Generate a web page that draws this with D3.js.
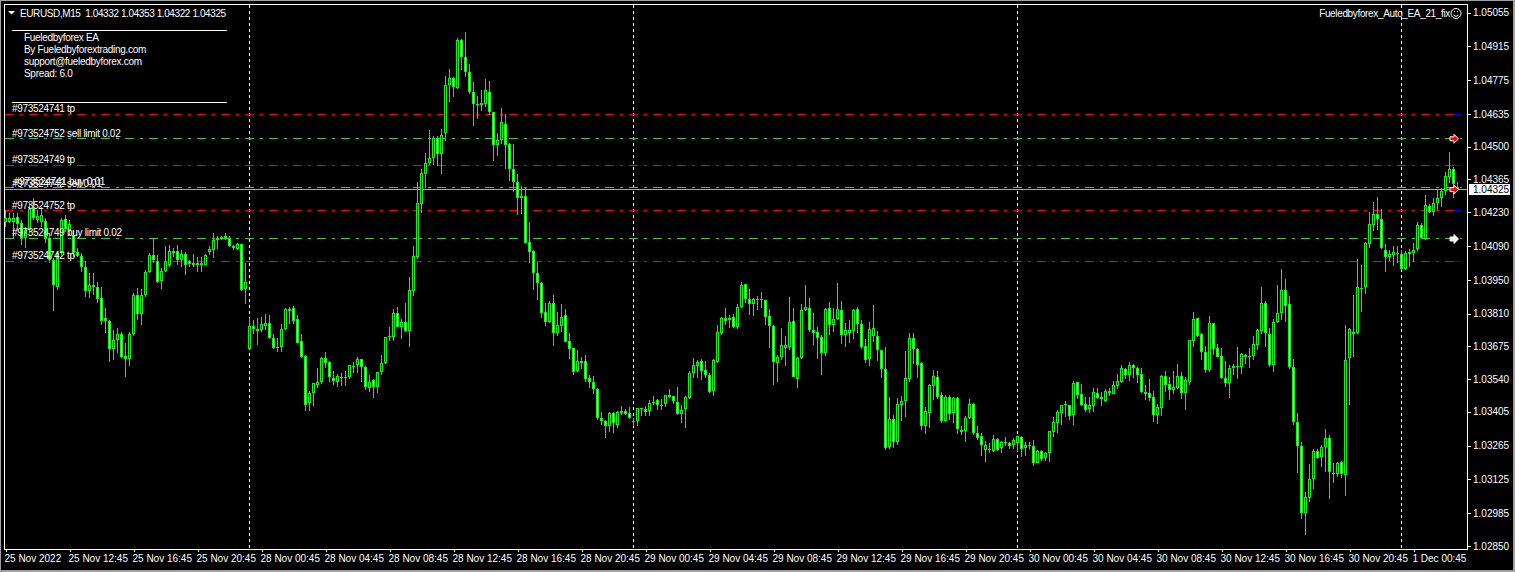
<!DOCTYPE html>
<html><head><meta charset="utf-8">
<script src="https://cdn.jsdelivr.net/npm/d3@7/dist/d3.min.js"></script>
<style>
html,body{margin:0;padding:0;background:#a0a0a0;overflow:hidden}
svg{display:block;font-family:"Liberation Sans",sans-serif;font-size:10px}
text{fill:#fff}
</style></head><body><div id="c"></div>
<script>
// Prices in points (1e-5)
const high=[104239,104225,104225,104225,104198,104170,104267,104287,104239,104253,
104205,104143,104039,104067,104205,104218,104198,104156,104081,104060,
104026,103977,103977,103943,103922,103833,103784,103743,103750,103736,
103688,103736,103895,103915,103911,103991,104060,104122,104053,103998,
104088,104094,104081,104094,104074,104067,104032,104056,104046,104046,
104057,104090,104143,104132,104132,104143,104132,104094,104104,104098,
104018,103791,103784,103791,103795,103809,103805,103726,103708,103768,
103832,103836,103842,103805,103726,103639,103491,103522,103584,103630,
103652,103613,103575,103561,103564,103575,103598,103610,103630,103624,
103594,103557,103539,103571,103639,103715,103754,103830,103836,103788,
103853,103963,104090,104353,104407,104473,104569,104545,104545,104572,
104793,104820,104787,104948,104945,104973,104842,104766,104710,104735,
104779,104772,104645,104556,104659,104635,104514,104512,104387,104338,
104335,104189,104073,104024,103942,103854,103863,103888,103816,103851,
103830,103731,103670,103661,103633,103640,103557,103553,103502,103404,
103371,103404,103403,103407,103427,103415,103424,103378,103422,103420,
103427,103454,103471,103457,103458,103476,103500,103472,103508,103432,
103471,103575,103626,103619,103624,103615,103564,103624,103764,103797,
103833,103805,103810,103851,103942,103934,103911,103874,103884,103900,
103868,103830,103764,103640,103750,103718,103879,103834,103630,103850,
103929,103875,103813,103754,103722,103833,103857,103833,103936,103861,
103771,103784,103828,103838,103783,103706,103776,103846,103739,103660,
103671,103466,103392,103461,103470,103656,103729,103729,103667,103609,
103425,103518,103578,103572,103487,103476,103473,103467,103466,103346,
103388,103456,103440,103346,103316,103283,103277,103309,103295,103286,
103299,103281,103298,103306,103305,103280,103281,103288,103246,103247,
103238,103327,103382,103412,103434,103449,103434,103531,103529,103518,
103466,103466,103502,103502,103485,103497,103502,103532,103559,103597,
103586,103610,103602,103588,103586,103515,103539,103491,103435,103557,
103572,103548,103572,103602,103569,103547,103701,103817,103794,103732,
103675,103801,103773,103685,103668,103615,103598,103602,103672,103646,
103643,103668,103718,103745,103920,103861,103750,103787,103929,103995,
103953,103883,103623,103398,103279,103074,103188,103250,103250,103269,
103334,103309,103195,103198,103201,103764,103750,103888,104035,104012,
104106,104230,104272,104293,104242,104099,104074,104091,104088,104074,
104071,104077,104104,104188,104187,104299,104264,104288,104325,104329,
104394,104479,104416,104353];
const low=[104170,104184,104122,104156,104094,104081,104143,104198,104184,104170,
104101,104019,103823,103908,104053,104149,104136,104046,104046,103984,
103881,103874,103888,103853,103764,103732,103612,103619,103647,103626,
103547,103592,103716,103784,103764,103881,103977,104019,103936,103914,
103984,104005,104046,104012,104005,103970,104005,104005,103984,103984,
104012,104053,104039,104076,104115,104115,104085,104074,104074,103905,
103850,103660,103726,103681,103736,103743,103704,103663,103653,103653,
103743,103768,103768,103688,103627,103409,103409,103429,103503,103520,
103584,103529,103515,103509,103511,103511,103542,103564,103566,103529,
103495,103488,103463,103481,103557,103602,103699,103699,103754,103706,
103734,103674,103883,104038,104228,104328,104425,104425,104422,104389,
104525,104686,104706,104737,104817,104787,104718,104586,104616,104649,
104663,104631,104443,104462,104512,104410,104360,104314,104218,104222,
104101,104021,103908,103867,103793,103760,103771,103677,103719,103735,
103694,103624,103557,103570,103581,103528,103504,103479,103369,103349,
103297,103323,103316,103336,103392,103392,103374,103347,103347,103388,
103388,103388,103431,103413,103413,103425,103461,103438,103393,103359,
103338,103458,103544,103546,103537,103544,103482,103468,103608,103724,
103764,103750,103750,103748,103832,103854,103805,103801,103826,103833,
103764,103669,103516,103528,103619,103594,103660,103547,103503,103622,
103820,103736,103681,103623,103557,103636,103722,103736,103784,103685,
103671,103691,103706,103729,103666,103605,103593,103693,103615,103545,
103247,103251,103257,103269,103368,103382,103528,103602,103545,103330,
103313,103338,103454,103456,103360,103363,103371,103360,103313,103310,
103280,103374,103308,103288,103222,103197,103233,103240,103244,103236,
103264,103250,103250,103240,103219,103222,103250,103181,103192,103202,
103200,103197,103302,103318,103350,103383,103371,103350,103459,103429,
103404,103400,103404,103459,103430,103446,103471,103478,103499,103525,
103540,103532,103543,103524,103481,103453,103449,103362,103354,103387,
103486,103453,103478,103497,103459,103412,103515,103672,103712,103619,
103565,103569,103639,103630,103542,103507,103462,103555,103540,103561,
103602,103586,103619,103660,103726,103674,103588,103569,103770,103784,
103776,103581,103349,103153,102961,102897,103030,103085,103209,103176,
103156,103046,103110,103134,103132,103057,103433,103633,103727,103819,
103892,104080,104153,104157,104077,103984,104026,104008,104019,103989,
103989,104005,104024,104071,104118,104115,104226,104215,104239,104253,
104300,104350,104288,104322];
const open=[104191,104191,104191,104209,104184,104121,104154,104246,104198,104191,
104192,104122,104030,103922,104063,104200,104156,104134,104064,104050,
104005,103906,103928,103919,103874,103791,103782,103663,103702,103725,
103636,103622,103725,103888,103808,103888,103984,104052,104027,103947,
103987,104012,104070,104070,104030,104056,104026,104019,104013,104021,
104013,104067,104074,104116,104119,104132,104122,104090,104079,104098,
103911,103663,103758,103747,103743,103761,103770,103708,103674,103671,
103745,103823,103832,103787,103696,103634,103440,103484,103517,103529,
103626,103609,103546,103529,103544,103549,103547,103594,103597,103622,
103591,103502,103535,103509,103568,103605,103712,103715,103812,103757,
103774,103737,103903,104043,104262,104386,104434,104452,104535,104469,
104556,104754,104783,104742,104940,104872,104808,104728,104673,104674,
104678,104728,104642,104509,104528,104596,104510,104407,104356,104290,
104298,104105,104068,103977,103936,103819,103774,103854,103732,103761,
103804,103697,103668,103574,103615,103614,103544,103527,103498,103378,
103367,103348,103399,103352,103399,103407,103399,103365,103365,103420,
103415,103406,103439,103453,103432,103435,103464,103469,103447,103396,
103418,103462,103567,103596,103614,103577,103556,103489,103611,103732,
103792,103786,103796,103757,103836,103932,103870,103852,103865,103870,
103866,103799,103760,103608,103633,103670,103674,103779,103542,103625,
103826,103833,103744,103733,103713,103647,103833,103765,103788,103824,
103724,103732,103739,103828,103766,103676,103622,103720,103717,103659,
103580,103261,103374,103281,103434,103448,103542,103709,103663,103605,
103348,103401,103513,103547,103473,103368,103465,103401,103462,103328,
103327,103379,103436,103316,103304,103247,103248,103244,103291,103253,
103277,103276,103266,103275,103299,103253,103262,103262,103195,103242,
103215,103236,103321,103360,103401,103433,103431,103391,103526,103477,
103435,103416,103430,103481,103456,103449,103491,103478,103511,103529,
103580,103558,103597,103586,103559,103480,103481,103464,103393,103422,
103551,103518,103496,103504,103551,103484,103529,103699,103791,103725,
103650,103579,103770,103667,103634,103543,103525,103584,103594,103591,
103632,103631,103635,103681,103740,103853,103728,103598,103776,103814,
103907,103849,103588,103364,103263,102986,103048,103126,103242,103217,
103261,103296,103148,103147,103196,103143,103625,103728,103730,103913,
103920,104100,104175,104221,104201,104073,104046,104053,104062,104056,
103994,104056,104060,104077,104176,104118,104255,104230,104267,104288,
104319,104374,104407,104332];
const close=[104205,104205,104205,104181,104121,104156,104242,104205,104214,104218,
104121,104030,103928,104063,104198,104159,104181,104063,104049,104005,
103906,103928,103919,103870,103782,103778,103663,103702,103725,103633,
103622,103725,103888,103808,103888,103983,104052,104030,103943,103987,
104026,104070,104060,104034,104056,104013,104016,104013,104019,104013,
104053,104078,104115,104121,104129,104121,104088,104081,104099,103908,
103940,103759,103745,103740,103768,103772,103708,103670,103668,103745,
103828,103830,103781,103690,103630,103434,103481,103522,103526,103626,
103605,103547,103533,103553,103549,103544,103597,103590,103622,103588,
103506,103529,103509,103568,103605,103712,103718,103814,103757,103774,
103737,103907,104047,104266,104390,104434,104452,104535,104469,104550,
104754,104783,104746,104940,104872,104810,104728,104675,104678,104681,
104733,104645,104509,104527,104601,104509,104407,104356,104287,104298,
104104,104066,103977,103936,103815,103774,103854,103732,103763,103796,
103695,103666,103571,103614,103608,103542,103526,103497,103377,103365,
103344,103399,103358,103403,103407,103396,103380,103367,103420,103417,
103402,103440,103447,103431,103429,103473,103473,103451,103396,103411,
103465,103564,103597,103610,103575,103555,103487,103619,103734,103792,
103782,103793,103754,103837,103929,103870,103849,103870,103870,103865,
103798,103761,103612,103630,103680,103680,103775,103550,103627,103827,
103837,103743,103732,103711,103649,103828,103764,103787,103828,103724,
103742,103742,103824,103769,103674,103619,103746,103750,103659,103580,
103257,103374,103281,103436,103448,103543,103709,103666,103600,103348,
103407,103514,103552,103467,103368,103465,103397,103461,103332,103323,
103378,103436,103316,103298,103269,103266,103251,103291,103247,103280,
103280,103265,103287,103304,103251,103266,103266,103191,103242,103211,
103233,103324,103361,103402,103431,103435,103389,103522,103475,103433,
103412,103433,103485,103462,103464,103491,103481,103514,103531,103584,
103558,103597,103587,103557,103488,103486,103463,103393,103424,103553,
103517,103496,103507,103551,103482,103536,103700,103787,103718,103653,
103579,103770,103666,103632,103546,103525,103584,103593,103590,103642,
103638,103635,103683,103741,103853,103729,103599,103774,103812,103907,
103843,103588,103364,103265,102986,103052,103126,103242,103213,103261,
103296,103154,103151,103195,103148,103619,103746,103735,103920,103916,
104102,104180,104223,104201,104081,104046,104056,104064,104056,103994,
104060,104066,104073,104176,104122,104259,104230,104267,104289,104318,
104380,104407,104347,104325];

const priceTicks=[1.05055,1.04915,1.04775,1.04635,1.04500,1.04365,1.04230,1.04090,1.03950,1.03810,1.03675,1.03540,1.03405,1.03265,1.03125,1.02985,1.02850];
const timeLabels=["25 Nov 2022","25 Nov 12:45","25 Nov 16:45","25 Nov 20:45","28 Nov 00:45","28 Nov 04:45","28 Nov 08:45","28 Nov 12:45","28 Nov 16:45","28 Nov 20:45","29 Nov 00:45","29 Nov 04:45","29 Nov 08:45","29 Nov 12:45","29 Nov 16:45","29 Nov 20:45","30 Nov 00:45","30 Nov 04:45","30 Nov 08:45","30 Nov 12:45","30 Nov 16:45","30 Nov 20:45","1 Dec 00:45"];
const barsPerLabel=16;
const separatorBars=[61,157,253,349];
const levelPrices=[1.04635,1.04535,1.04423,1.04332,1.04237,1.04121,1.04026];
const levelColors=["#ff0000","#32cd32","#ff0000","#32cd32","#ff0000","#32cd32","#ff0000"];
const levelLabels=["#973524741 tp","#973524752 sell limit 0.02","#973524749 tp","#973524741 buy 0.01","#973524752 tp","#973524749 buy limit 0.02","#973524742 tp"];
const extraLabel="#973524742 sell 0.01";
const infoLines=["Fueledbyforex EA","By Fueledbyforextrading.com","support@fueledbyforex.com","Spread: 6.0"];
const headerText="EURUSD,M15  1.04332 1.04353 1.04322 1.04325";
const eaName="Fueledbyforex_Auto_EA_21_fix";
const bid=1.04325;

const W=1515,H=572,L=5,R=1467,T=5,B=549;
const x=d3.scaleLinear().domain([0,363]).range([5.5,1457.5]);
const y=d3.scaleLinear().domain([1.0285,1.05055]).range([546,12.5]);
const yp=p=>y(p/1e5);
const svg=d3.select("#c").append("svg").attr("width",W).attr("height",H).attr("shape-rendering","crispEdges");
svg.append("rect").attr("width",W).attr("height",H).attr("fill","#a0a0a0");
svg.append("rect").attr("x",1).attr("y",1).attr("width",1512).attr("height",569).attr("fill","#000");
svg.append("rect").attr("x",L-0.5).attr("y",T-0.5).attr("width",R-L+1).attr("height",B-T+1).attr("fill","#000").attr("stroke","#fff");

// period separators
svg.append("g").selectAll("line").data(separatorBars).join("line")
 .attr("x1",d=>x(d)).attr("x2",d=>x(d)).attr("y1",T).attr("y2",B)
 .attr("stroke","#fff").attr("stroke-dasharray","3 3");

// order levels
const rowY=p=>Math.floor(y(p))+0.5;
const lv=svg.append("g");
lv.selectAll("line").data(levelPrices).join("line")
 .attr("x1",L).attr("x2",1462).attr("y1",rowY).attr("y2",rowY)
 .attr("stroke",(d,i)=>levelColors[i]).attr("stroke-dasharray","9 6 3 6");
lv.selectAll("line.end").data(levelPrices.filter((d,i)=>levelColors[i]=="#ff0000")).join("line").attr("class","end")
 .attr("x1",1454).attr("x2",1462).attr("y1",rowY).attr("y2",rowY).attr("stroke","#0000ff");
svg.append("line").attr("x1",L).attr("x2",R).attr("y1",rowY(bid)).attr("y2",rowY(bid)).attr("stroke","#a9a9a9");

// candles
const bars=d3.range(high.length).map(i=>({i,o:open[i],h:high[i],l:low[i],c:close[i]}));
const col=d=>Math.floor(x(d.i));
const g=svg.append("g");
g.selectAll("rect.w").data(bars).join("rect").attr("class","w")
 .attr("x",col).attr("width",1).attr("y",d=>Math.round(yp(d.h)))
 .attr("height",d=>Math.max(1,Math.round(yp(d.l))-Math.round(yp(d.h)))).attr("fill","#00ff00");
const topOf=d=>Math.round(yp(Math.max(d.o,d.c))), botOf=d=>Math.max(topOf(d)+1,Math.round(yp(Math.min(d.o,d.c))));
g.selectAll("rect.b").data(bars).join("rect").attr("class","b")
 .attr("x",d=>col(d)-1).attr("width",3).attr("y",topOf).attr("height",d=>botOf(d)-topOf(d)).attr("fill","#00ff00");
g.selectAll("rect.f").data(bars.filter(d=>botOf(d)-topOf(d)>2)).join("rect").attr("class","f")
 .attr("x",col).attr("width",1).attr("y",d=>topOf(d)+1).attr("height",d=>botOf(d)-topOf(d)-2)
 .attr("fill",d=>d.c<d.o?"#fff":"#000");

// arrows
const arrow=(px,py,fill)=>{
 const p=d3.path();p.moveTo(px-4,py-2);p.lineTo(px,py-2);p.lineTo(px,py-4.5);p.lineTo(px+4.5,py);p.lineTo(px,py+4.5);p.lineTo(px,py+2);p.lineTo(px-4,py+2);p.closePath();
 svg.append("path").attr("d",p.toString()).attr("fill",fill).attr("stroke","#fff").attr("shape-rendering","auto");
};
arrow(x(362)+0.5,y(levelPrices[1])+0.5,"#ff0000");
arrow(x(362)+0.5,y(bid)+0.5,"#ff0000");
arrow(x(362)+0.5,y(levelPrices[5])+0.5,"#ffffff");

// axes
const ax=d3.axisRight(y).tickValues(priceTicks).tickSize(3).tickPadding(3).tickFormat(d3.format(".5f"));
const ga=svg.append("g").attr("transform",`translate(${R},0)`).call(ax);
ga.select(".domain").remove();
ga.selectAll("line").attr("stroke","#fff").attr("x1",1).attr("x2",3.5);
ga.selectAll("text").attr("x",6).attr("fill","#fff").attr("font-size",null).attr("font-family",null);
const tx=d3.axisBottom(x).tickValues(timeLabels.map((d,i)=>i*barsPerLabel)).tickSize(3).tickPadding(3).tickFormat((d,i)=>timeLabels[i]);
const gt=svg.append("g").attr("transform",`translate(0,${B})`).call(tx);
gt.select(".domain").remove();
gt.selectAll("line").attr("stroke","#fff");
gt.selectAll("text").attr("text-anchor","start").attr("fill","#fff").attr("x",-1.5).attr("y",6).attr("font-size",null).attr("font-family",null);

// bid label
svg.append("rect").attr("x",1469).attr("y",184).attr("width",41).attr("height",11).attr("fill","#fff");
svg.append("text").attr("x",1473).attr("y",193).style("fill","#000").text(d3.format(".5f")(bid));

// texts
svg.append("path").attr("d","M8 11L15 11L11.5 14.5Z").attr("fill","#fff").attr("shape-rendering","auto");
svg.append("text").attr("x",20).attr("y",16.5).attr("letter-spacing",-0.4).style("white-space","pre").text(headerText);
svg.append("text").attr("x",1450).attr("y",16.5).attr("text-anchor","end").attr("letter-spacing",-0.35).text(eaName);
svg.append("circle").attr("cx",1456).attr("cy",13.5).attr("r",5).attr("fill","none").attr("stroke","#fff").attr("shape-rendering","auto");
svg.append("path").attr("d","M1453.5 15Q1456 18 1458.5 15M1454 11.5h1M1457 11.5h1").attr("fill","none").attr("stroke","#fff").attr("shape-rendering","auto");
svg.selectAll("line.sep").data([30.5,102.5]).join("line").attr("class","sep").attr("x1",12).attr("x2",227).attr("y1",d=>d).attr("y2",d=>d).attr("stroke","#fff");
svg.selectAll("text.info").data(infoLines).join("text").attr("class","info").attr("x",24).attr("y",(d,i)=>41+i*12).attr("letter-spacing",-0.3).text(d=>d);
const labelY=[111.5,136.5,162.5,185,208.5,235.5,258.5];
svg.selectAll("text.lv").data(levelLabels).join("text").attr("class","lv").attr("x",(d,i)=>i==3?14:12).attr("y",(d,i)=>labelY[i]).attr("letter-spacing",-0.3).text(d=>d);
svg.append("text").attr("x",12).attr("y",187).attr("letter-spacing",-0.3).text(extraLabel);
</script></body></html>
